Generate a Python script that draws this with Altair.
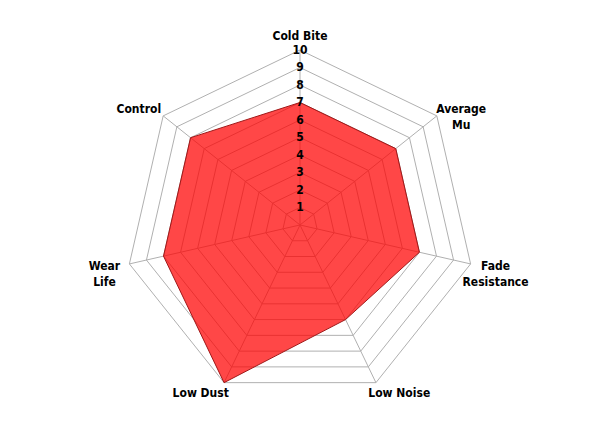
import altair as alt
import pandas as pd

# ---- data ----
categories = ["Cold Bite", "Average Mu", "Fade Resistance", "Low Noise", "Low Dust", "Wear Life", "Control"]
category_labels = ["Cold Bite", "Average\nMu", "Fade\nResistance", "Low Noise", "Low Dust", "Wear\nLife", "Control"]
scores = [7, 7, 7, 6, 10, 8, 8]
tick_levels = [1, 2, 3, 4, 5, 6, 7, 8, 9, 10]
tick_labels = ["1", "2", "3", "4", "5", "6", "7", "8", "9", "10"]
max_level = 10

n = len(categories)
FONT = "Liberation Sans Narrow, DejaVu Sans Condensed, Arial Narrow, sans-serif"

scores_df = pd.DataFrame({"idx": list(range(n)), "category": categories,
                          "label": category_labels, "score": scores})
grid_df = pd.DataFrame([{"level": lv, "idx": i} for lv in tick_levels for i in range(n)])
ticks_df = pd.DataFrame({"level": tick_levels, "text": tick_labels})

ANG = f"datum.idx * 2 * PI / {n}"

xs = alt.Scale(domain=[-16.686, 16.686], nice=False, zero=False)
ys = alt.Scale(domain=[-11.03, 12.4], nice=False, zero=False)


def X(f):
    return alt.X(f, type="quantitative", scale=xs, axis=None)


def Y(f):
    return alt.Y(f, type="quantitative", scale=ys, axis=None)


rings = alt.Chart(grid_df).transform_calculate(
    gx=f"datum.level * sin({ANG})", gy=f"datum.level * cos({ANG})"
).mark_line(interpolate="linear-closed", stroke="#b0b0b0", strokeWidth=1).encode(
    x=X("gx"), y=Y("gy"), detail="level:N", order="idx:Q"
)

spokes = alt.Chart(scores_df).transform_calculate(
    cx="0", cy="0",
    sx=f"{max_level} * sin({ANG})", sy=f"{max_level} * cos({ANG})"
).mark_rule(stroke="#b0b0b0", strokeWidth=1).encode(
    x=X("cx"), y=Y("cy"), x2="sx:Q", y2="sy:Q"
)

area = alt.Chart(scores_df).transform_calculate(
    px=f"datum.score * sin({ANG})", py=f"datum.score * cos({ANG})"
).mark_line(interpolate="linear-closed", fill="#ff0000", fillOpacity=0.72,
            stroke="#a01818", strokeWidth=1).encode(
    x=X("px"), y=Y("py"), order="idx:Q"
)

tick_text = alt.Chart(ticks_df).transform_calculate(tx="0").mark_text(
    font=FONT, fontSize=12, fontWeight="bold", color="#000000",
    align="center", baseline="middle"
).encode(x=X("tx"), y=Y("level"), text="text:N")

labels = alt.Chart(scores_df).transform_calculate(
    s=f"sin({ANG})", c=f"cos({ANG})"
).transform_calculate(
    lx="10.17 * datum.s + (datum.s > 0.05 ? 1.26 : (datum.s < -0.05 ? -1.26 : 0))",
    ly="10.63 * datum.c + (datum.c > 0.95 ? 0.15 : 0)"
).mark_text(
    font=FONT, fontSize=12, fontWeight="bold", color="#000000",
    align="center", baseline="middle", lineBreak="\n", lineHeight=16
).encode(x=X("lx"), y=Y("ly"), text="label:N")

chart = alt.layer(rings, spokes, area, tick_text, labels).properties(
    width=584, height=410, padding=0
).configure_view(stroke=None)

chart.save("out.html", embed_options={"renderer": "svg", "actions": False})
